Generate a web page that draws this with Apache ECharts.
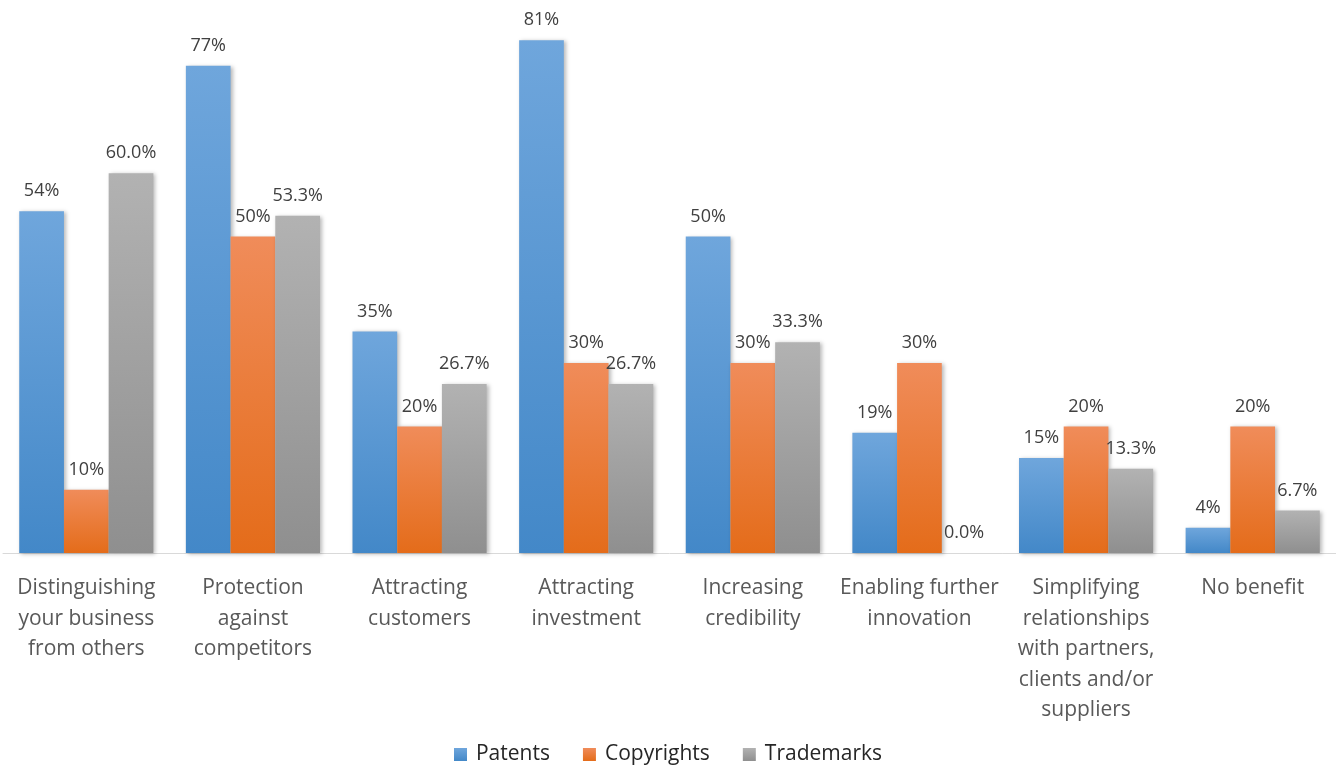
<!DOCTYPE html>
<html>
<head>
<meta charset="utf-8">
<script src="https://cdn.jsdelivr.net/npm/echarts@6/dist/echarts.min.js"></script>
<style>
  html, body { margin: 0; padding: 0; background: #ffffff; }
  #chart { width: 1336px; height: 767px; }
</style>
</head>
<body>
<div id="chart"></div>
<script>
// Benefits of IP protection, share of respondents (%)
const categories = [
  'Distinguishing\nyour business\nfrom others',
  'Protection\nagainst\ncompetitors',
  'Attracting\ncustomers',
  'Attracting\ninvestment',
  'Increasing\ncredibility',
  'Enabling further\ninnovation',
  'Simplifying\nrelationships\nwith partners,\nclients and/or\nsuppliers',
  'No benefit'
];
const patents    = [54, 77, 35, 81, 50, 19, 15, 4];
const copyrights = [10, 50, 20, 30, 30, 30, 20, 20];
const trademarks = [60.0, 53.3, 26.7, 26.7, 33.3, 0.0, 13.3, 6.7];

const FONT = 'Open Sans';

function grad(top, bottom) {
  return new echarts.graphic.LinearGradient(0, 0, 0, 1, [
    { offset: 0, color: top },
    { offset: 1, color: bottom }
  ]);
}

function barSeries(name, data, top, bottom, decimals) {
  return {
    name: name,
    type: 'bar',
    data: data,
    barGap: '0%',
    barCategoryGap: '19.5%',
    itemStyle: {
      color: grad(top, bottom),
      shadowColor: 'rgba(0,0,0,0.28)',
      shadowBlur: 4,
      shadowOffsetX: 2,
      shadowOffsetY: 1
    },
    label: {
      show: true,
      position: 'top',
      distance: 11,
      color: '#404040',
      fontFamily: FONT,
      fontSize: 18,
      formatter: p => p.value.toFixed(decimals) + '%'
    }
  };
}

const chart = echarts.init(document.getElementById('chart'));
chart.setOption({
  animation: false,
  color: ['#5b9bd5', '#ed7d31', '#a5a5a5'],
  grid: { left: 3, right: 0, top: 15, bottom: 214, containLabel: false },
  legend: {
    bottom: -3,
    left: 'center',
    itemWidth: 13,
    itemHeight: 13,
    itemGap: 33,
    icon: 'rect',
    textStyle: { fontFamily: FONT, fontSize: 21, color: '#262626', padding: [0, 0, 0, 4] },
    data: [
      { name: 'Patents', itemStyle: { color: grad('#6fa6dc', '#4388c8') } },
      { name: 'Copyrights', itemStyle: { color: grad('#f08c5a', '#e46c1a') } },
      { name: 'Trademarks', itemStyle: { color: grad('#b2b2b2', '#8f8f8f') } }
    ]
  },
  xAxis: {
    type: 'category',
    data: categories,
    axisLine: { show: true, lineStyle: { color: '#d9d9d9', width: 1 } },
    axisTick: { show: false },
    axisLabel: {
      interval: 0,
      margin: 20,
      color: '#595959',
      fontFamily: FONT,
      fontSize: 21,
      lineHeight: 30.5
    }
  },
  yAxis: {
    type: 'value',
    min: 0,
    max: 85,
    show: false,
    splitLine: { show: false }
  },
  series: [
    barSeries('Patents', patents, '#6fa6dc', '#4388c8', 0),
    barSeries('Copyrights', copyrights, '#f08c5a', '#e46c1a', 0),
    barSeries('Trademarks', trademarks, '#b2b2b2', '#8f8f8f', 1)
  ]
});
</script>
</body>
</html>
